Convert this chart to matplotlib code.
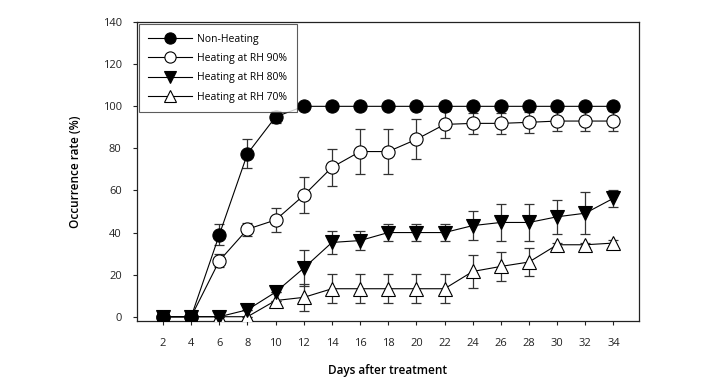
import matplotlib
matplotlib.use("Agg")
import matplotlib.pyplot as plt
import numpy as np

days = [2, 4, 6, 8, 10, 12, 14, 16, 18, 20, 22, 24, 26, 28, 30, 32, 34]

non_heating = [0, 0, 39, 77.5, 95, 100, 100, 100, 100, 100, 100, 100, 100, 100, 100, 100, 100]
non_heating_err = [0, 0, 5, 7, 3, 0, 0, 0, 0, 0, 0, 0, 0, 0, 0, 0, 0]

rh90 = [0, 0, 26.6, 41.6, 46, 57.7, 71, 78.5, 78.5, 84.3, 91.4, 91.9, 91.9, 92.4, 93, 93, 93]
rh90_err = [0, 0, 3, 3, 5.8, 8.6, 8.8, 10.7, 10.7, 9.5, 6.3, 5, 5, 5, 4.7, 4.7, 4.7]

rh80 = [0, 0, 0, 3.3, 11.7, 23.1, 35.3, 36.2, 40, 40, 40, 43.3, 44.8, 44.8, 47.5, 49.2, 56.3]
rh80_err = [0, 0, 0, 0, 0, 8.5, 5.5, 4.4, 4, 4, 4, 7, 8.7, 8.7, 8, 10, 4]

rh70 = [0, 0, 0, 0, 7.7, 9.2, 13.3, 13.3, 13.3, 13.3, 13.3, 21.5, 23.9, 26, 34.2, 34.2, 35]
rh70_err = [0, 0, 0, 0, 0, 6.5, 6.9, 6.9, 6.9, 6.9, 6.9, 7.7, 6.7, 6.6, 1, 1, 1.5]

labels = ["Non-Heating", "Heating at RH 90%", "Heating at RH 80%", "Heating at RH 70%"]
yticks = [0, 20, 40, 60, 80, 100, 120, 140]

plt.rcParams['font.family'] = ['Open Sans', 'DejaVu Sans']

fig = plt.figure(figsize=(7.21, 3.89), dpi=100)
ax = fig.add_axes([0.190, 0.175, 0.696, 0.768])

series = [
    (non_heating, non_heating_err, 'o', 'black', labels[0]),
    (rh90, rh90_err, 'o', 'white', labels[1]),
    (rh80, rh80_err, 'v', 'black', labels[2]),
    (rh70, rh70_err, '^', 'white', labels[3]),
]

handles = []
for vals, err, mk, fc, lab in reversed(series):
    ax.errorbar(days, vals, yerr=err, fmt='none', ecolor='#333333',
                elinewidth=0.9, capsize=3.5, capthick=0.9, zorder=2)
for vals, err, mk, fc, lab in reversed(series):
    ms = 9.5 if mk == 'o' else 10
    h, = ax.plot(days, vals, marker=mk, ms=ms, mfc=fc, mec='black', mew=0.8,
                 color='black', lw=0.8, label=lab, zorder=3)
    handles.append(h)
handles = handles[::-1]

ax.set_xlim(0.15, 35.8)
ax.set_ylim(-2, 140)
ax.set_xticks(days)
ax.set_yticks(yticks)
ax.tick_params(axis='both', direction='out', length=3, width=0.8, labelsize=8,
               colors='#222222', pad=8)
ax.tick_params(axis='x', pad=9)
for s in ax.spines.values():
    s.set_linewidth(0.9)
    s.set_color('#222222')

ax.set_xlabel("Days after treatment", fontsize=8.5, fontweight='semibold', labelpad=11)
ax.set_ylabel("Occurrence rate (%)", fontsize=8.5, fontweight='semibold', labelpad=15)

leg = ax.legend(handles=handles, loc='upper left', fontsize=7.5, frameon=True,
                fancybox=False, edgecolor='#333333', handlelength=4.2,
                borderaxespad=0.2, labelspacing=0.8, borderpad=0.9,
                handletextpad=0.5, markerscale=0.85)
leg.get_frame().set_linewidth(0.8)

fig.savefig("out.png", dpi=100)
